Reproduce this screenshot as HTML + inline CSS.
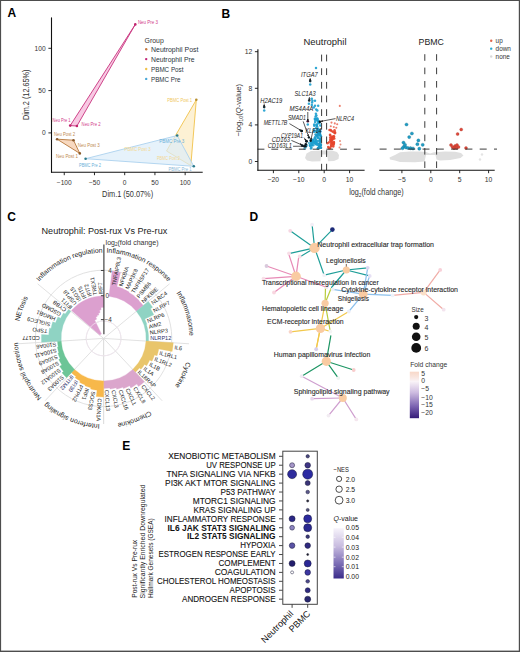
<!DOCTYPE html>
<html><head><meta charset="utf-8"><style>
html,body{margin:0;padding:0;background:#fff;overflow:hidden;width:520px;height:652px;}
.fig{position:relative;width:520px;height:652px;overflow:hidden;background:#fff;}
.fig svg{position:absolute;left:0;top:0;}
.bd{position:absolute;left:0;top:0;width:518px;height:650px;border-left:1px solid #555;border-top:1.2px solid #555;border-right:2px solid #555;border-bottom:2px solid #555;box-sizing:content-box;}
</style></head><body><div class="fig">
<svg width="520" height="652" viewBox="0 0 520 652" font-family='"Liberation Sans", sans-serif'>
<text x="7.40" y="17.20" font-size="12" fill="#000" font-weight="bold" >A</text>
<text x="221.40" y="17.70" font-size="12" fill="#000" font-weight="bold" >B</text>
<text x="7.20" y="220.90" font-size="12" fill="#000" font-weight="bold" >C</text>
<text x="249.60" y="220.50" font-size="12" fill="#000" font-weight="bold" >D</text>
<text x="122.20" y="449.80" font-size="12" fill="#000" font-weight="bold" >E</text>
<polygon points="196.30,99.80 166.50,151.00 190.80,165.60" fill="#fbe6b0" fill-opacity="0.55" stroke="#f0c24a" stroke-width="0.9" stroke-linejoin="round"/>
<polygon points="85.60,158.70 177.20,135.50 193.80,166.30" fill="#dcecf9" fill-opacity="0.7" stroke="#abd1ee" stroke-width="0.9" stroke-linejoin="round"/>
<polygon points="57.10,139.20 73.50,140.20 79.80,153.40" fill="#f6d0b0" fill-opacity="0.8" stroke="#b7773a" stroke-width="0.9" stroke-linejoin="round"/>
<polygon points="70.20,125.60 76.90,126.00 135.30,24.40" fill="#f6bcdc" fill-opacity="0.8" stroke="#c8337e" stroke-width="0.9" stroke-linejoin="round"/>
<circle cx="70.20" cy="125.60" r="1.30" fill="#c0246e" stroke="none" stroke-width="0" />
<circle cx="76.90" cy="126.00" r="1.30" fill="#c0246e" stroke="none" stroke-width="0" />
<circle cx="135.30" cy="24.40" r="1.30" fill="#c0246e" stroke="none" stroke-width="0" />
<circle cx="57.10" cy="139.20" r="1.30" fill="#8a5a2a" stroke="none" stroke-width="0" />
<circle cx="73.50" cy="140.20" r="1.30" fill="#8a5a2a" stroke="none" stroke-width="0" />
<circle cx="79.80" cy="153.40" r="1.30" fill="#8a5a2a" stroke="none" stroke-width="0" />
<circle cx="85.60" cy="158.70" r="1.30" fill="#2a7a8a" stroke="none" stroke-width="0" />
<circle cx="177.20" cy="135.50" r="1.30" fill="#2a7a8a" stroke="none" stroke-width="0" />
<circle cx="193.80" cy="166.30" r="1.30" fill="#2a7a8a" stroke="none" stroke-width="0" />
<circle cx="196.30" cy="99.80" r="1.30" fill="#b89030" stroke="none" stroke-width="0" />
<text x="137.90" y="24.20" font-size="4.6" fill="#d23c8a" textLength="20.00" lengthAdjust="spacingAndGlyphs" >Neu Pre 3</text>
<text x="52.60" y="121.60" font-size="4.6" fill="#d23c8a" textLength="18.00" lengthAdjust="spacingAndGlyphs" >Neu Pre 1</text>
<text x="81.60" y="126.20" font-size="4.6" fill="#d23c8a" textLength="19.00" lengthAdjust="spacingAndGlyphs" >Neu Pre 2</text>
<text x="54.00" y="135.80" font-size="4.6" fill="#c08a50" textLength="21.00" lengthAdjust="spacingAndGlyphs" >Neu Post 2</text>
<text x="77.80" y="147.20" font-size="4.6" fill="#c08a50" textLength="22.00" lengthAdjust="spacingAndGlyphs" >Neu Post 3</text>
<text x="56.00" y="157.70" font-size="4.6" fill="#c08a50" textLength="22.00" lengthAdjust="spacingAndGlyphs" >Neu Post 1</text>
<text x="79.00" y="166.70" font-size="4.6" fill="#6ab0d8" textLength="22.00" lengthAdjust="spacingAndGlyphs" >PBMC Pre 2</text>
<text x="159.20" y="142.90" font-size="4.6" fill="#6ab0d8" textLength="25.00" lengthAdjust="spacingAndGlyphs" >PBMC Pre 3</text>
<text x="168.50" y="170.50" font-size="4.6" fill="#8ab8d8" textLength="23.00" lengthAdjust="spacingAndGlyphs" >PBMC Pre 1</text>
<text x="167.20" y="101.80" font-size="4.6" fill="#f0c860" textLength="25.00" lengthAdjust="spacingAndGlyphs" >PBMC Post 1</text>
<text x="124.60" y="150.90" font-size="4.6" fill="#f4d890" textLength="26.00" lengthAdjust="spacingAndGlyphs" >PBMC Post 3</text>
<text x="157.00" y="160.20" font-size="4.6" fill="#f4d890" textLength="23.00" lengthAdjust="spacingAndGlyphs" >PBMC Post 2</text>
<line x1="51.50" y1="17.40" x2="51.50" y2="172.70" stroke="#111" stroke-width="1.1" />
<line x1="51.00" y1="172.20" x2="202.70" y2="172.20" stroke="#111" stroke-width="1.1" />
<line x1="48.40" y1="48.30" x2="51.50" y2="48.30" stroke="#111" stroke-width="0.9" />
<text x="45.60" y="50.60" font-size="6.6" fill="#333" text-anchor="end" >100</text>
<line x1="48.40" y1="90.60" x2="51.50" y2="90.60" stroke="#111" stroke-width="0.9" />
<text x="45.60" y="92.90" font-size="6.6" fill="#333" text-anchor="end" >50</text>
<line x1="48.40" y1="132.90" x2="51.50" y2="132.90" stroke="#111" stroke-width="0.9" />
<text x="45.60" y="135.20" font-size="6.6" fill="#333" text-anchor="end" >0</text>
<line x1="64.25" y1="172.20" x2="64.25" y2="175.20" stroke="#111" stroke-width="0.9" />
<text x="64.25" y="184.60" font-size="6.6" fill="#333" text-anchor="middle" >−100</text>
<line x1="94.47" y1="172.20" x2="94.47" y2="175.20" stroke="#111" stroke-width="0.9" />
<text x="94.47" y="184.60" font-size="6.6" fill="#333" text-anchor="middle" >−50</text>
<line x1="124.70" y1="172.20" x2="124.70" y2="175.20" stroke="#111" stroke-width="0.9" />
<text x="124.70" y="184.60" font-size="6.6" fill="#333" text-anchor="middle" >0</text>
<line x1="154.93" y1="172.20" x2="154.93" y2="175.20" stroke="#111" stroke-width="0.9" />
<text x="154.93" y="184.60" font-size="6.6" fill="#333" text-anchor="middle" >50</text>
<line x1="185.15" y1="172.20" x2="185.15" y2="175.20" stroke="#111" stroke-width="0.9" />
<text x="185.15" y="184.60" font-size="6.6" fill="#333" text-anchor="middle" >100</text>
<text x="127.60" y="197.40" font-size="8.4" fill="#333" text-anchor="middle" textLength="51.00" lengthAdjust="spacingAndGlyphs" >Dim.1 (50.07%)</text>
<text x="28.60" y="94.80" font-size="8.4" fill="#333" text-anchor="middle" textLength="50.60" lengthAdjust="spacingAndGlyphs" transform="rotate(-90.00 28.60 94.80)" >Dim.2 (12.65%)</text>
<text x="144.60" y="42.60" font-size="7.4" fill="#333" textLength="19.20" lengthAdjust="spacingAndGlyphs" >Group</text>
<circle cx="146.20" cy="49.20" r="1.20" fill="#c77a3e" stroke="none" stroke-width="0" />
<text x="151.00" y="51.80" font-size="7.3" fill="#2a3540" textLength="47.50" lengthAdjust="spacingAndGlyphs" >Neutrophil Post</text>
<circle cx="146.20" cy="59.10" r="1.20" fill="#c2267a" stroke="none" stroke-width="0" />
<text x="151.00" y="61.70" font-size="7.3" fill="#2a3540" textLength="43.50" lengthAdjust="spacingAndGlyphs" >Neutrophil Pre</text>
<circle cx="146.20" cy="69.00" r="1.20" fill="#f0c24a" stroke="none" stroke-width="0" />
<text x="151.00" y="71.60" font-size="7.3" fill="#2a3540" textLength="32.50" lengthAdjust="spacingAndGlyphs" >PBMC Post</text>
<circle cx="146.20" cy="78.90" r="1.20" fill="#4aa8d8" stroke="none" stroke-width="0" />
<text x="151.00" y="81.50" font-size="7.3" fill="#2a3540" textLength="29.50" lengthAdjust="spacingAndGlyphs" >PBMC Pre</text>
<defs><filter id="gb" x="-20%" y="-50%" width="140%" height="200%"><feGaussianBlur stdDeviation="0.6"/></filter></defs>
<g filter="url(#gb)" fill="#dfdfdf">
<polygon points="305,158 306.5,153.5 311,151 322,150.4 332,150.6 337,152 339,155 338.5,159 334,161 328,161.3 327.2,154.5 321.2,154.5 320.5,161.3 312,161.6 307,160.5"/>
<polygon points="389.5,157.5 395,155 400,152.2 410,151.5 420,151.5 426,152 430,153.5 434,152.2 445,151.5 455,151.7 461,153 463.5,155.5 460.5,158 450,160 440,160.5 436.5,159.5 435.5,155 426,155 424.5,161.5 415,162.2 400,162 395,160.5 390,159.5"/>
</g>
<circle cx="482.00" cy="154.50" r="1.20" fill="#e4e4e4" stroke="none" stroke-width="0" />
<circle cx="480.00" cy="159.50" r="1.20" fill="#e4e4e4" stroke="none" stroke-width="0" />
<circle cx="316.00" cy="68.00" r="1.25" fill="#1c9fcf" stroke="none" stroke-width="0" fill-opacity="0.9"/>
<circle cx="310.20" cy="84.50" r="1.25" fill="#1c9fcf" stroke="none" stroke-width="0" fill-opacity="0.9"/>
<circle cx="264.20" cy="110.50" r="1.25" fill="#1c9fcf" stroke="none" stroke-width="0" fill-opacity="0.9"/>
<circle cx="311.80" cy="98.80" r="1.25" fill="#1c9fcf" stroke="none" stroke-width="0" fill-opacity="0.9"/>
<circle cx="312.40" cy="100.80" r="1.25" fill="#1c9fcf" stroke="none" stroke-width="0" fill-opacity="0.9"/>
<circle cx="315.00" cy="100.80" r="1.25" fill="#1c9fcf" stroke="none" stroke-width="0" fill-opacity="0.9"/>
<circle cx="308.90" cy="103.70" r="1.25" fill="#1c9fcf" stroke="none" stroke-width="0" fill-opacity="0.9"/>
<circle cx="312.10" cy="102.50" r="1.25" fill="#1c9fcf" stroke="none" stroke-width="0" fill-opacity="0.9"/>
<circle cx="311.80" cy="105.10" r="1.25" fill="#1c9fcf" stroke="none" stroke-width="0" fill-opacity="0.9"/>
<circle cx="315.00" cy="105.70" r="1.25" fill="#1c9fcf" stroke="none" stroke-width="0" fill-opacity="0.9"/>
<circle cx="318.20" cy="105.70" r="1.25" fill="#1c9fcf" stroke="none" stroke-width="0" fill-opacity="0.9"/>
<circle cx="313.80" cy="107.40" r="1.25" fill="#1c9fcf" stroke="none" stroke-width="0" fill-opacity="0.9"/>
<circle cx="316.20" cy="109.40" r="1.25" fill="#1c9fcf" stroke="none" stroke-width="0" fill-opacity="0.9"/>
<circle cx="317.30" cy="110.60" r="1.25" fill="#1c9fcf" stroke="none" stroke-width="0" fill-opacity="0.9"/>
<circle cx="315.90" cy="113.80" r="1.25" fill="#1c9fcf" stroke="none" stroke-width="0" fill-opacity="0.9"/>
<circle cx="316.40" cy="115.50" r="1.25" fill="#1c9fcf" stroke="none" stroke-width="0" fill-opacity="0.9"/>
<circle cx="315.60" cy="116.40" r="1.25" fill="#1c9fcf" stroke="none" stroke-width="0" fill-opacity="0.9"/>
<circle cx="317.30" cy="120.40" r="1.25" fill="#1c9fcf" stroke="none" stroke-width="0" fill-opacity="0.9"/>
<circle cx="318.50" cy="123.30" r="1.25" fill="#1c9fcf" stroke="none" stroke-width="0" fill-opacity="0.9"/>
<circle cx="307.80" cy="124.50" r="1.25" fill="#1c9fcf" stroke="none" stroke-width="0" fill-opacity="0.9"/>
<circle cx="315.14" cy="121.89" r="1.25" fill="#1c9fcf" stroke="none" stroke-width="0" fill-opacity="0.9"/>
<circle cx="314.24" cy="125.81" r="1.25" fill="#1c9fcf" stroke="none" stroke-width="0" fill-opacity="0.9"/>
<circle cx="316.63" cy="124.43" r="1.25" fill="#1c9fcf" stroke="none" stroke-width="0" fill-opacity="0.9"/>
<circle cx="317.50" cy="118.70" r="1.25" fill="#1c9fcf" stroke="none" stroke-width="0" fill-opacity="0.9"/>
<circle cx="317.08" cy="118.45" r="1.25" fill="#1c9fcf" stroke="none" stroke-width="0" fill-opacity="0.9"/>
<circle cx="314.83" cy="118.84" r="1.25" fill="#1c9fcf" stroke="none" stroke-width="0" fill-opacity="0.9"/>
<circle cx="319.46" cy="123.09" r="1.25" fill="#1c9fcf" stroke="none" stroke-width="0" fill-opacity="0.9"/>
<circle cx="315.76" cy="119.49" r="1.25" fill="#1c9fcf" stroke="none" stroke-width="0" fill-opacity="0.9"/>
<circle cx="320.32" cy="125.53" r="1.25" fill="#1c9fcf" stroke="none" stroke-width="0" fill-opacity="0.9"/>
<circle cx="316.84" cy="124.93" r="1.25" fill="#1c9fcf" stroke="none" stroke-width="0" fill-opacity="0.9"/>
<circle cx="313.71" cy="129.72" r="1.25" fill="#1c9fcf" stroke="none" stroke-width="0" fill-opacity="0.9"/>
<circle cx="316.01" cy="128.30" r="1.25" fill="#1c9fcf" stroke="none" stroke-width="0" fill-opacity="0.9"/>
<circle cx="314.99" cy="119.73" r="1.25" fill="#1c9fcf" stroke="none" stroke-width="0" fill-opacity="0.9"/>
<circle cx="319.32" cy="121.70" r="1.25" fill="#1c9fcf" stroke="none" stroke-width="0" fill-opacity="0.9"/>
<circle cx="317.94" cy="120.17" r="1.25" fill="#1c9fcf" stroke="none" stroke-width="0" fill-opacity="0.9"/>
<circle cx="316.66" cy="125.67" r="1.25" fill="#1c9fcf" stroke="none" stroke-width="0" fill-opacity="0.9"/>
<circle cx="314.23" cy="124.57" r="1.25" fill="#1c9fcf" stroke="none" stroke-width="0" fill-opacity="0.9"/>
<circle cx="315.67" cy="118.72" r="1.25" fill="#1c9fcf" stroke="none" stroke-width="0" fill-opacity="0.9"/>
<circle cx="317.05" cy="126.16" r="1.25" fill="#1c9fcf" stroke="none" stroke-width="0" fill-opacity="0.9"/>
<circle cx="318.01" cy="121.77" r="1.25" fill="#1c9fcf" stroke="none" stroke-width="0" fill-opacity="0.9"/>
<circle cx="315.49" cy="134.53" r="1.25" fill="#1c9fcf" stroke="none" stroke-width="0" fill-opacity="0.9"/>
<circle cx="318.61" cy="137.94" r="1.25" fill="#1c9fcf" stroke="none" stroke-width="0" fill-opacity="0.9"/>
<circle cx="317.96" cy="132.44" r="1.25" fill="#1c9fcf" stroke="none" stroke-width="0" fill-opacity="0.9"/>
<circle cx="320.08" cy="135.25" r="1.25" fill="#1c9fcf" stroke="none" stroke-width="0" fill-opacity="0.9"/>
<circle cx="315.03" cy="137.29" r="1.25" fill="#1c9fcf" stroke="none" stroke-width="0" fill-opacity="0.9"/>
<circle cx="312.84" cy="139.80" r="1.25" fill="#1c9fcf" stroke="none" stroke-width="0" fill-opacity="0.9"/>
<circle cx="319.24" cy="134.18" r="1.25" fill="#1c9fcf" stroke="none" stroke-width="0" fill-opacity="0.9"/>
<circle cx="317.38" cy="131.52" r="1.25" fill="#1c9fcf" stroke="none" stroke-width="0" fill-opacity="0.9"/>
<circle cx="318.77" cy="130.39" r="1.25" fill="#1c9fcf" stroke="none" stroke-width="0" fill-opacity="0.9"/>
<circle cx="317.57" cy="137.65" r="1.25" fill="#1c9fcf" stroke="none" stroke-width="0" fill-opacity="0.9"/>
<circle cx="315.11" cy="138.75" r="1.25" fill="#1c9fcf" stroke="none" stroke-width="0" fill-opacity="0.9"/>
<circle cx="317.80" cy="136.95" r="1.25" fill="#1c9fcf" stroke="none" stroke-width="0" fill-opacity="0.9"/>
<circle cx="316.73" cy="135.80" r="1.25" fill="#1c9fcf" stroke="none" stroke-width="0" fill-opacity="0.9"/>
<circle cx="320.57" cy="138.40" r="1.25" fill="#1c9fcf" stroke="none" stroke-width="0" fill-opacity="0.9"/>
<circle cx="318.50" cy="134.74" r="1.25" fill="#1c9fcf" stroke="none" stroke-width="0" fill-opacity="0.9"/>
<circle cx="318.99" cy="130.61" r="1.25" fill="#1c9fcf" stroke="none" stroke-width="0" fill-opacity="0.9"/>
<circle cx="320.95" cy="136.47" r="1.25" fill="#1c9fcf" stroke="none" stroke-width="0" fill-opacity="0.9"/>
<circle cx="314.88" cy="138.22" r="1.25" fill="#1c9fcf" stroke="none" stroke-width="0" fill-opacity="0.9"/>
<circle cx="318.59" cy="133.86" r="1.25" fill="#1c9fcf" stroke="none" stroke-width="0" fill-opacity="0.9"/>
<circle cx="317.29" cy="130.23" r="1.25" fill="#1c9fcf" stroke="none" stroke-width="0" fill-opacity="0.9"/>
<circle cx="314.16" cy="131.68" r="1.25" fill="#1c9fcf" stroke="none" stroke-width="0" fill-opacity="0.9"/>
<circle cx="319.46" cy="130.59" r="1.25" fill="#1c9fcf" stroke="none" stroke-width="0" fill-opacity="0.9"/>
<circle cx="315.44" cy="131.29" r="1.25" fill="#1c9fcf" stroke="none" stroke-width="0" fill-opacity="0.9"/>
<circle cx="320.08" cy="133.91" r="1.25" fill="#1c9fcf" stroke="none" stroke-width="0" fill-opacity="0.9"/>
<circle cx="317.14" cy="130.81" r="1.25" fill="#1c9fcf" stroke="none" stroke-width="0" fill-opacity="0.9"/>
<circle cx="320.14" cy="135.49" r="1.25" fill="#1c9fcf" stroke="none" stroke-width="0" fill-opacity="0.9"/>
<circle cx="319.62" cy="147.37" r="1.25" fill="#1c9fcf" stroke="none" stroke-width="0" fill-opacity="0.9"/>
<circle cx="315.53" cy="142.51" r="1.25" fill="#1c9fcf" stroke="none" stroke-width="0" fill-opacity="0.9"/>
<circle cx="319.96" cy="143.23" r="1.25" fill="#1c9fcf" stroke="none" stroke-width="0" fill-opacity="0.9"/>
<circle cx="310.96" cy="148.62" r="1.25" fill="#1c9fcf" stroke="none" stroke-width="0" fill-opacity="0.9"/>
<circle cx="313.74" cy="141.59" r="1.25" fill="#1c9fcf" stroke="none" stroke-width="0" fill-opacity="0.9"/>
<circle cx="316.30" cy="142.10" r="1.25" fill="#1c9fcf" stroke="none" stroke-width="0" fill-opacity="0.9"/>
<circle cx="313.27" cy="145.30" r="1.25" fill="#1c9fcf" stroke="none" stroke-width="0" fill-opacity="0.9"/>
<circle cx="315.98" cy="140.04" r="1.25" fill="#1c9fcf" stroke="none" stroke-width="0" fill-opacity="0.9"/>
<circle cx="316.94" cy="143.32" r="1.25" fill="#1c9fcf" stroke="none" stroke-width="0" fill-opacity="0.9"/>
<circle cx="317.70" cy="148.58" r="1.25" fill="#1c9fcf" stroke="none" stroke-width="0" fill-opacity="0.9"/>
<circle cx="317.31" cy="144.64" r="1.25" fill="#1c9fcf" stroke="none" stroke-width="0" fill-opacity="0.9"/>
<circle cx="310.14" cy="146.09" r="1.25" fill="#1c9fcf" stroke="none" stroke-width="0" fill-opacity="0.9"/>
<circle cx="318.71" cy="148.10" r="1.25" fill="#1c9fcf" stroke="none" stroke-width="0" fill-opacity="0.9"/>
<circle cx="318.91" cy="147.87" r="1.25" fill="#1c9fcf" stroke="none" stroke-width="0" fill-opacity="0.9"/>
<circle cx="315.18" cy="143.53" r="1.25" fill="#1c9fcf" stroke="none" stroke-width="0" fill-opacity="0.9"/>
<circle cx="317.85" cy="140.93" r="1.25" fill="#1c9fcf" stroke="none" stroke-width="0" fill-opacity="0.9"/>
<circle cx="311.99" cy="140.56" r="1.25" fill="#1c9fcf" stroke="none" stroke-width="0" fill-opacity="0.9"/>
<circle cx="312.85" cy="141.88" r="1.25" fill="#1c9fcf" stroke="none" stroke-width="0" fill-opacity="0.9"/>
<circle cx="311.02" cy="143.06" r="1.25" fill="#1c9fcf" stroke="none" stroke-width="0" fill-opacity="0.9"/>
<circle cx="313.21" cy="140.00" r="1.25" fill="#1c9fcf" stroke="none" stroke-width="0" fill-opacity="0.9"/>
<circle cx="315.28" cy="140.91" r="1.25" fill="#1c9fcf" stroke="none" stroke-width="0" fill-opacity="0.9"/>
<circle cx="319.97" cy="140.23" r="1.25" fill="#1c9fcf" stroke="none" stroke-width="0" fill-opacity="0.9"/>
<circle cx="311.73" cy="145.53" r="1.25" fill="#1c9fcf" stroke="none" stroke-width="0" fill-opacity="0.9"/>
<circle cx="314.86" cy="142.27" r="1.25" fill="#1c9fcf" stroke="none" stroke-width="0" fill-opacity="0.9"/>
<circle cx="311.98" cy="143.28" r="1.25" fill="#1c9fcf" stroke="none" stroke-width="0" fill-opacity="0.9"/>
<circle cx="320.93" cy="147.64" r="1.25" fill="#1c9fcf" stroke="none" stroke-width="0" fill-opacity="0.9"/>
<circle cx="315.98" cy="144.19" r="1.25" fill="#1c9fcf" stroke="none" stroke-width="0" fill-opacity="0.9"/>
<circle cx="312.40" cy="140.77" r="1.25" fill="#1c9fcf" stroke="none" stroke-width="0" fill-opacity="0.9"/>
<circle cx="313.78" cy="143.08" r="1.25" fill="#1c9fcf" stroke="none" stroke-width="0" fill-opacity="0.9"/>
<circle cx="311.42" cy="147.46" r="1.25" fill="#1c9fcf" stroke="none" stroke-width="0" fill-opacity="0.9"/>
<circle cx="320.60" cy="140.21" r="1.25" fill="#1c9fcf" stroke="none" stroke-width="0" fill-opacity="0.9"/>
<circle cx="311.91" cy="144.75" r="1.25" fill="#1c9fcf" stroke="none" stroke-width="0" fill-opacity="0.9"/>
<circle cx="310.02" cy="144.89" r="1.25" fill="#1c9fcf" stroke="none" stroke-width="0" fill-opacity="0.9"/>
<circle cx="320.80" cy="144.75" r="1.25" fill="#1c9fcf" stroke="none" stroke-width="0" fill-opacity="0.9"/>
<circle cx="319.74" cy="146.13" r="1.25" fill="#1996c4" stroke="none" stroke-width="0" fill-opacity="0.9"/>
<circle cx="318.24" cy="133.48" r="1.25" fill="#1996c4" stroke="none" stroke-width="0" fill-opacity="0.9"/>
<circle cx="320.06" cy="131.51" r="1.25" fill="#1996c4" stroke="none" stroke-width="0" fill-opacity="0.9"/>
<circle cx="320.09" cy="139.18" r="1.25" fill="#1996c4" stroke="none" stroke-width="0" fill-opacity="0.9"/>
<circle cx="317.51" cy="134.92" r="1.25" fill="#1996c4" stroke="none" stroke-width="0" fill-opacity="0.9"/>
<circle cx="320.94" cy="145.04" r="1.25" fill="#1996c4" stroke="none" stroke-width="0" fill-opacity="0.9"/>
<circle cx="320.21" cy="145.91" r="1.25" fill="#1996c4" stroke="none" stroke-width="0" fill-opacity="0.9"/>
<circle cx="319.93" cy="145.18" r="1.25" fill="#1996c4" stroke="none" stroke-width="0" fill-opacity="0.9"/>
<circle cx="318.95" cy="132.76" r="1.25" fill="#1996c4" stroke="none" stroke-width="0" fill-opacity="0.9"/>
<circle cx="316.29" cy="135.47" r="1.25" fill="#1996c4" stroke="none" stroke-width="0" fill-opacity="0.9"/>
<circle cx="317.80" cy="128.59" r="1.25" fill="#1996c4" stroke="none" stroke-width="0" fill-opacity="0.9"/>
<circle cx="319.73" cy="133.44" r="1.25" fill="#1996c4" stroke="none" stroke-width="0" fill-opacity="0.9"/>
<circle cx="318.63" cy="148.09" r="1.25" fill="#1996c4" stroke="none" stroke-width="0" fill-opacity="0.9"/>
<circle cx="320.95" cy="147.68" r="1.25" fill="#1996c4" stroke="none" stroke-width="0" fill-opacity="0.9"/>
<circle cx="318.23" cy="148.06" r="1.25" fill="#1996c4" stroke="none" stroke-width="0" fill-opacity="0.9"/>
<circle cx="317.53" cy="132.63" r="1.25" fill="#1996c4" stroke="none" stroke-width="0" fill-opacity="0.9"/>
<circle cx="317.40" cy="132.13" r="1.25" fill="#1996c4" stroke="none" stroke-width="0" fill-opacity="0.9"/>
<circle cx="320.60" cy="141.11" r="1.25" fill="#1996c4" stroke="none" stroke-width="0" fill-opacity="0.9"/>
<circle cx="318.78" cy="145.65" r="1.25" fill="#1996c4" stroke="none" stroke-width="0" fill-opacity="0.9"/>
<circle cx="320.18" cy="141.71" r="1.25" fill="#1996c4" stroke="none" stroke-width="0" fill-opacity="0.9"/>
<circle cx="319.59" cy="129.78" r="1.25" fill="#1996c4" stroke="none" stroke-width="0" fill-opacity="0.9"/>
<circle cx="320.11" cy="147.11" r="1.25" fill="#1996c4" stroke="none" stroke-width="0" fill-opacity="0.9"/>
<circle cx="318.77" cy="143.75" r="1.25" fill="#1996c4" stroke="none" stroke-width="0" fill-opacity="0.9"/>
<circle cx="320.14" cy="131.75" r="1.25" fill="#1996c4" stroke="none" stroke-width="0" fill-opacity="0.9"/>
<circle cx="320.19" cy="134.98" r="1.25" fill="#1996c4" stroke="none" stroke-width="0" fill-opacity="0.9"/>
<circle cx="305.50" cy="147.50" r="1.20" fill="#3ab0d8" stroke="none" stroke-width="0" fill-opacity="0.8"/>
<circle cx="307.00" cy="145.50" r="1.20" fill="#3ab0d8" stroke="none" stroke-width="0" fill-opacity="0.8"/>
<circle cx="304.50" cy="148.80" r="1.20" fill="#3ab0d8" stroke="none" stroke-width="0" fill-opacity="0.8"/>
<circle cx="309.00" cy="143.00" r="1.20" fill="#3ab0d8" stroke="none" stroke-width="0" fill-opacity="0.8"/>
<circle cx="310.50" cy="140.20" r="1.20" fill="#3ab0d8" stroke="none" stroke-width="0" fill-opacity="0.8"/>
<circle cx="331.50" cy="122.60" r="1.05" fill="#e8604a" stroke="none" stroke-width="0" fill-opacity="0.8"/>
<circle cx="334.80" cy="123.40" r="1.05" fill="#e8604a" stroke="none" stroke-width="0" fill-opacity="0.8"/>
<circle cx="337.20" cy="124.20" r="1.05" fill="#e8604a" stroke="none" stroke-width="0" fill-opacity="0.8"/>
<circle cx="330.80" cy="126.30" r="1.05" fill="#e8604a" stroke="none" stroke-width="0" fill-opacity="0.8"/>
<circle cx="333.80" cy="127.00" r="1.05" fill="#e8604a" stroke="none" stroke-width="0" fill-opacity="0.8"/>
<circle cx="336.30" cy="127.80" r="1.05" fill="#e8604a" stroke="none" stroke-width="0" fill-opacity="0.8"/>
<circle cx="339.80" cy="105.90" r="1.05" fill="#e8604a" stroke="none" stroke-width="0" fill-opacity="0.8"/>
<circle cx="331.36" cy="136.77" r="1.25" fill="#e6452c" stroke="none" stroke-width="0" fill-opacity="0.9"/>
<circle cx="335.03" cy="132.21" r="1.25" fill="#e6452c" stroke="none" stroke-width="0" fill-opacity="0.9"/>
<circle cx="330.04" cy="134.80" r="1.25" fill="#e6452c" stroke="none" stroke-width="0" fill-opacity="0.9"/>
<circle cx="330.66" cy="130.02" r="1.25" fill="#e6452c" stroke="none" stroke-width="0" fill-opacity="0.9"/>
<circle cx="333.96" cy="136.24" r="1.25" fill="#e6452c" stroke="none" stroke-width="0" fill-opacity="0.9"/>
<circle cx="334.56" cy="130.17" r="1.25" fill="#e6452c" stroke="none" stroke-width="0" fill-opacity="0.9"/>
<circle cx="333.02" cy="136.84" r="1.25" fill="#e6452c" stroke="none" stroke-width="0" fill-opacity="0.9"/>
<circle cx="332.90" cy="131.80" r="1.25" fill="#e6452c" stroke="none" stroke-width="0" fill-opacity="0.9"/>
<circle cx="329.51" cy="130.05" r="1.25" fill="#e6452c" stroke="none" stroke-width="0" fill-opacity="0.9"/>
<circle cx="332.98" cy="136.77" r="1.25" fill="#e6452c" stroke="none" stroke-width="0" fill-opacity="0.9"/>
<circle cx="334.89" cy="133.21" r="1.25" fill="#e6452c" stroke="none" stroke-width="0" fill-opacity="0.9"/>
<circle cx="334.61" cy="132.47" r="1.25" fill="#e6452c" stroke="none" stroke-width="0" fill-opacity="0.9"/>
<circle cx="330.23" cy="135.61" r="1.25" fill="#e6452c" stroke="none" stroke-width="0" fill-opacity="0.9"/>
<circle cx="331.46" cy="131.01" r="1.25" fill="#e6452c" stroke="none" stroke-width="0" fill-opacity="0.9"/>
<circle cx="332.21" cy="139.89" r="1.25" fill="#e6452c" stroke="none" stroke-width="0" fill-opacity="0.9"/>
<circle cx="331.10" cy="140.11" r="1.25" fill="#e6452c" stroke="none" stroke-width="0" fill-opacity="0.9"/>
<circle cx="334.29" cy="138.57" r="1.25" fill="#e6452c" stroke="none" stroke-width="0" fill-opacity="0.9"/>
<circle cx="331.22" cy="141.25" r="1.25" fill="#e6452c" stroke="none" stroke-width="0" fill-opacity="0.9"/>
<circle cx="333.58" cy="144.00" r="1.25" fill="#e6452c" stroke="none" stroke-width="0" fill-opacity="0.9"/>
<circle cx="333.90" cy="142.05" r="1.25" fill="#e6452c" stroke="none" stroke-width="0" fill-opacity="0.9"/>
<circle cx="331.47" cy="143.02" r="1.25" fill="#e6452c" stroke="none" stroke-width="0" fill-opacity="0.9"/>
<circle cx="327.50" cy="143.28" r="1.25" fill="#e6452c" stroke="none" stroke-width="0" fill-opacity="0.9"/>
<circle cx="329.14" cy="142.28" r="1.25" fill="#e6452c" stroke="none" stroke-width="0" fill-opacity="0.9"/>
<circle cx="333.84" cy="137.05" r="1.25" fill="#e6452c" stroke="none" stroke-width="0" fill-opacity="0.9"/>
<circle cx="331.59" cy="139.07" r="1.25" fill="#e6452c" stroke="none" stroke-width="0" fill-opacity="0.9"/>
<circle cx="331.29" cy="145.70" r="1.25" fill="#e6452c" stroke="none" stroke-width="0" fill-opacity="0.9"/>
<circle cx="331.65" cy="140.91" r="1.25" fill="#e6452c" stroke="none" stroke-width="0" fill-opacity="0.9"/>
<circle cx="332.93" cy="143.67" r="1.25" fill="#e6452c" stroke="none" stroke-width="0" fill-opacity="0.9"/>
<circle cx="332.24" cy="138.27" r="1.25" fill="#e6452c" stroke="none" stroke-width="0" fill-opacity="0.9"/>
<circle cx="330.13" cy="139.98" r="1.25" fill="#e6452c" stroke="none" stroke-width="0" fill-opacity="0.9"/>
<circle cx="330.91" cy="146.27" r="1.25" fill="#e6452c" stroke="none" stroke-width="0" fill-opacity="0.9"/>
<circle cx="332.78" cy="143.74" r="1.25" fill="#e6452c" stroke="none" stroke-width="0" fill-opacity="0.9"/>
<circle cx="330.28" cy="147.95" r="1.25" fill="#e6452c" stroke="none" stroke-width="0" fill-opacity="0.9"/>
<circle cx="331.14" cy="144.35" r="1.25" fill="#e6452c" stroke="none" stroke-width="0" fill-opacity="0.9"/>
<circle cx="332.45" cy="143.15" r="1.25" fill="#e6452c" stroke="none" stroke-width="0" fill-opacity="0.9"/>
<circle cx="331.55" cy="142.43" r="1.25" fill="#e6452c" stroke="none" stroke-width="0" fill-opacity="0.9"/>
<circle cx="333.95" cy="142.74" r="1.25" fill="#e6452c" stroke="none" stroke-width="0" fill-opacity="0.9"/>
<circle cx="333.25" cy="145.39" r="1.25" fill="#e6452c" stroke="none" stroke-width="0" fill-opacity="0.9"/>
<circle cx="328.97" cy="148.31" r="1.25" fill="#e6452c" stroke="none" stroke-width="0" fill-opacity="0.9"/>
<circle cx="333.84" cy="143.71" r="1.25" fill="#e6452c" stroke="none" stroke-width="0" fill-opacity="0.9"/>
<circle cx="328.17" cy="147.08" r="1.25" fill="#e6452c" stroke="none" stroke-width="0" fill-opacity="0.9"/>
<circle cx="331.46" cy="138.46" r="1.25" fill="#e6452c" stroke="none" stroke-width="0" fill-opacity="0.9"/>
<circle cx="330.13" cy="137.87" r="1.25" fill="#e6452c" stroke="none" stroke-width="0" fill-opacity="0.9"/>
<circle cx="332.97" cy="137.88" r="1.25" fill="#e6452c" stroke="none" stroke-width="0" fill-opacity="0.9"/>
<circle cx="333.24" cy="146.41" r="1.25" fill="#e6452c" stroke="none" stroke-width="0" fill-opacity="0.9"/>
<circle cx="333.13" cy="138.85" r="1.25" fill="#e6452c" stroke="none" stroke-width="0" fill-opacity="0.9"/>
<circle cx="340.00" cy="141.00" r="1.00" fill="#e8907e" stroke="none" stroke-width="0" />
<circle cx="340.50" cy="144.50" r="1.00" fill="#e8907e" stroke="none" stroke-width="0" />
<circle cx="339.50" cy="147.50" r="1.00" fill="#e8907e" stroke="none" stroke-width="0" />
<circle cx="310.20" cy="81.10" r="1.30" fill="#14303a" stroke="none" stroke-width="0" />
<circle cx="309.20" cy="100.50" r="1.30" fill="#14303a" stroke="none" stroke-width="0" />
<circle cx="264.20" cy="107.10" r="1.30" fill="#14303a" stroke="none" stroke-width="0" />
<circle cx="307.80" cy="121.30" r="1.30" fill="#3a1030" stroke="none" stroke-width="0" />
<circle cx="319.90" cy="121.80" r="1.30" fill="#0a1a20" stroke="none" stroke-width="0" />
<circle cx="301.70" cy="131.00" r="1.30" fill="#0a1a20" stroke="none" stroke-width="0" />
<circle cx="306.50" cy="141.20" r="1.30" fill="#0a1a20" stroke="none" stroke-width="0" />
<circle cx="305.80" cy="144.30" r="1.30" fill="#0a1a20" stroke="none" stroke-width="0" />
<circle cx="305.50" cy="146.30" r="1.30" fill="#0a1a20" stroke="none" stroke-width="0" />
<circle cx="406.50" cy="124.50" r="1.60" fill="#1f9cc4" stroke="#1a6f8a" stroke-width="0.3" />
<circle cx="411.90" cy="133.50" r="1.60" fill="#1f9cc4" stroke="#1a6f8a" stroke-width="0.3" />
<circle cx="409.20" cy="137.10" r="1.60" fill="#1f9cc4" stroke="#1a6f8a" stroke-width="0.3" />
<circle cx="403.50" cy="142.60" r="1.60" fill="#1f9cc4" stroke="#1a6f8a" stroke-width="0.3" />
<circle cx="418.40" cy="140.40" r="1.60" fill="#1f9cc4" stroke="#1a6f8a" stroke-width="0.3" />
<circle cx="417.40" cy="144.20" r="1.60" fill="#1f9cc4" stroke="#1a6f8a" stroke-width="0.3" />
<circle cx="422.70" cy="144.80" r="1.60" fill="#1f9cc4" stroke="#1a6f8a" stroke-width="0.3" />
<circle cx="419.30" cy="148.70" r="1.60" fill="#1f9cc4" stroke="#1a6f8a" stroke-width="0.3" />
<circle cx="404.00" cy="146.50" r="1.60" fill="#1f9cc4" stroke="#1a6f8a" stroke-width="0.3" />
<circle cx="406.00" cy="147.50" r="1.60" fill="#1f9cc4" stroke="#1a6f8a" stroke-width="0.3" />
<circle cx="408.00" cy="148.00" r="1.60" fill="#1f9cc4" stroke="#1a6f8a" stroke-width="0.3" />
<circle cx="410.50" cy="148.20" r="1.60" fill="#1f9cc4" stroke="#1a6f8a" stroke-width="0.3" />
<circle cx="413.00" cy="148.50" r="1.60" fill="#1f9cc4" stroke="#1a6f8a" stroke-width="0.3" />
<circle cx="402.50" cy="148.20" r="1.60" fill="#1f9cc4" stroke="#1a6f8a" stroke-width="0.3" />
<circle cx="405.00" cy="144.80" r="1.60" fill="#1f9cc4" stroke="#1a6f8a" stroke-width="0.3" />
<circle cx="461.20" cy="129.50" r="1.50" fill="#e0463a" stroke="#a03020" stroke-width="0.3" />
<circle cx="457.60" cy="134.00" r="1.50" fill="#e0463a" stroke="#a03020" stroke-width="0.3" />
<circle cx="451.00" cy="145.00" r="1.50" fill="#e0463a" stroke="#a03020" stroke-width="0.3" />
<circle cx="452.50" cy="147.00" r="1.50" fill="#e0463a" stroke="#a03020" stroke-width="0.3" />
<circle cx="455.00" cy="146.00" r="1.50" fill="#e0463a" stroke="#a03020" stroke-width="0.3" />
<circle cx="457.00" cy="145.00" r="1.50" fill="#e0463a" stroke="#a03020" stroke-width="0.3" />
<circle cx="454.00" cy="148.20" r="1.50" fill="#e0463a" stroke="#a03020" stroke-width="0.3" />
<circle cx="456.50" cy="148.00" r="1.50" fill="#e0463a" stroke="#a03020" stroke-width="0.3" />
<circle cx="458.50" cy="147.00" r="1.50" fill="#e0463a" stroke="#a03020" stroke-width="0.3" />
<circle cx="466.00" cy="148.00" r="1.50" fill="#e0463a" stroke="#a03020" stroke-width="0.3" />
<line x1="257.60" y1="149.20" x2="364.60" y2="149.20" stroke="#333" stroke-width="0.95" stroke-dasharray="6.8,6.95"/>
<line x1="379.60" y1="149.10" x2="497.00" y2="149.10" stroke="#333" stroke-width="0.95" stroke-dasharray="7,7.3"/>
<line x1="321.60" y1="54.60" x2="321.60" y2="170.20" stroke="#333" stroke-width="0.95" stroke-dasharray="6.8,6.85"/>
<line x1="326.60" y1="54.60" x2="326.60" y2="170.20" stroke="#333" stroke-width="0.95" stroke-dasharray="6.8,6.85"/>
<line x1="424.80" y1="54.20" x2="424.80" y2="170.20" stroke="#333" stroke-width="0.95" stroke-dasharray="6.6,6.8"/>
<line x1="436.60" y1="54.20" x2="436.60" y2="170.20" stroke="#333" stroke-width="0.95" stroke-dasharray="6.6,6.8"/>
<line x1="257.90" y1="49.20" x2="257.90" y2="170.70" stroke="#111" stroke-width="1.1" />
<line x1="257.40" y1="170.20" x2="364.60" y2="170.20" stroke="#111" stroke-width="1.1" />
<line x1="379.30" y1="170.20" x2="494.70" y2="170.20" stroke="#111" stroke-width="1.1" />
<line x1="254.90" y1="161.50" x2="257.90" y2="161.50" stroke="#111" stroke-width="0.9" />
<text x="252.30" y="163.90" font-size="6.8" fill="#333" text-anchor="end" >0</text>
<line x1="254.90" y1="124.90" x2="257.90" y2="124.90" stroke="#111" stroke-width="0.9" />
<text x="252.30" y="127.30" font-size="6.8" fill="#333" text-anchor="end" >4</text>
<line x1="254.90" y1="88.30" x2="257.90" y2="88.30" stroke="#111" stroke-width="0.9" />
<text x="252.30" y="90.70" font-size="6.8" fill="#333" text-anchor="end" >8</text>
<line x1="254.90" y1="51.70" x2="257.90" y2="51.70" stroke="#111" stroke-width="0.9" />
<text x="252.30" y="54.10" font-size="6.8" fill="#333" text-anchor="end" >12</text>
<line x1="273.40" y1="170.20" x2="273.40" y2="173.20" stroke="#111" stroke-width="0.9" />
<text x="273.40" y="182.20" font-size="6.8" fill="#333" text-anchor="middle" >−20</text>
<line x1="298.80" y1="170.20" x2="298.80" y2="173.20" stroke="#111" stroke-width="0.9" />
<text x="298.80" y="182.20" font-size="6.8" fill="#333" text-anchor="middle" >−10</text>
<line x1="324.20" y1="170.20" x2="324.20" y2="173.20" stroke="#111" stroke-width="0.9" />
<text x="324.20" y="182.20" font-size="6.8" fill="#333" text-anchor="middle" >0</text>
<line x1="349.60" y1="170.20" x2="349.60" y2="173.20" stroke="#111" stroke-width="0.9" />
<text x="349.60" y="182.20" font-size="6.8" fill="#333" text-anchor="middle" >10</text>
<line x1="401.90" y1="170.20" x2="401.90" y2="173.20" stroke="#111" stroke-width="0.9" />
<text x="401.90" y="182.20" font-size="6.8" fill="#333" text-anchor="middle" >−5</text>
<line x1="430.80" y1="170.20" x2="430.80" y2="173.20" stroke="#111" stroke-width="0.9" />
<text x="430.80" y="182.20" font-size="6.8" fill="#333" text-anchor="middle" >0</text>
<line x1="459.70" y1="170.20" x2="459.70" y2="173.20" stroke="#111" stroke-width="0.9" />
<text x="459.70" y="182.20" font-size="6.8" fill="#333" text-anchor="middle" >5</text>
<line x1="488.60" y1="170.20" x2="488.60" y2="173.20" stroke="#111" stroke-width="0.9" />
<text x="488.60" y="182.20" font-size="6.8" fill="#333" text-anchor="middle" >10</text>
<text x="325.00" y="45.40" font-size="9" fill="#222" text-anchor="middle" textLength="43.10" lengthAdjust="spacingAndGlyphs" >Neutrophil</text>
<text x="431.20" y="45.40" font-size="9" fill="#222" text-anchor="middle" textLength="25.30" lengthAdjust="spacingAndGlyphs" >PBMC</text>
<text x="349.2" y="194.6" font-size="8.4" fill="#333" textLength="54.4" lengthAdjust="spacingAndGlyphs">log<tspan font-size="5.5" dy="2">2</tspan><tspan dy="-2">(fold change)</tspan></text>
<text transform="translate(241.4 110.2) rotate(-90)" x="0" y="0" font-size="7.6" fill="#333" text-anchor="middle">−log<tspan font-size="5.5" dy="2">10</tspan><tspan dy="-2">(</tspan><tspan font-style="italic">Q</tspan>-value)</text>
<circle cx="491.20" cy="40.80" r="1.20" fill="#e0634a" stroke="none" stroke-width="0" />
<text x="495.60" y="43.00" font-size="6.4" fill="#333" >up</text>
<circle cx="491.20" cy="48.65" r="1.20" fill="#2aa8d0" stroke="none" stroke-width="0" />
<text x="495.60" y="50.85" font-size="6.4" fill="#333" >down</text>
<circle cx="491.20" cy="56.50" r="1.20" fill="#d8d8d8" stroke="none" stroke-width="0" />
<text x="495.60" y="58.70" font-size="6.4" fill="#333" >none</text>
<text x="301.00" y="77.00" font-size="6.4" fill="#222" font-style="italic" textLength="16.70" lengthAdjust="spacingAndGlyphs" >ITGA7</text>
<text x="294.60" y="95.90" font-size="6.4" fill="#222" font-style="italic" textLength="21.00" lengthAdjust="spacingAndGlyphs" >SLC1A3</text>
<text x="289.40" y="111.30" font-size="6.4" fill="#222" font-style="italic" textLength="24.00" lengthAdjust="spacingAndGlyphs" >MS4A4A</text>
<text x="260.20" y="102.80" font-size="6.4" fill="#222" font-style="italic" textLength="22.00" lengthAdjust="spacingAndGlyphs" >H2AC19</text>
<text x="287.90" y="119.90" font-size="6.4" fill="#222" font-style="italic" textLength="18.00" lengthAdjust="spacingAndGlyphs" >SMAD1</text>
<text x="263.70" y="125.10" font-size="6.4" fill="#222" font-style="italic" textLength="23.60" lengthAdjust="spacingAndGlyphs" >METTL7B</text>
<text x="281.00" y="137.80" font-size="6.4" fill="#222" font-style="italic" textLength="22.00" lengthAdjust="spacingAndGlyphs" >CYP19A1</text>
<text x="271.70" y="142.40" font-size="6.4" fill="#222" font-style="italic" textLength="18.50" lengthAdjust="spacingAndGlyphs" >CD163</text>
<text x="267.70" y="148.20" font-size="6.4" fill="#222" font-style="italic" textLength="24.20" lengthAdjust="spacingAndGlyphs" >CD163L1</text>
<text x="305.50" y="133.00" font-size="6.4" fill="#222" font-style="italic" textLength="16.00" lengthAdjust="spacingAndGlyphs" >KLF14</text>
<text x="336.00" y="120.60" font-size="6.4" fill="#222" font-style="italic" textLength="18.00" lengthAdjust="spacingAndGlyphs" >NLRC4</text>
<defs><marker id="ah" viewBox="0 0 6 6" refX="5.5" refY="3" markerWidth="3.2" markerHeight="3.2" orient="auto"><path d="M0,0 L6,3 L0,6 Z" fill="#222"/></marker></defs>
<line x1="310.20" y1="78.00" x2="310.20" y2="81.00" stroke="#222" stroke-width="0.75" marker-end="url(#ah)"/>
<line x1="309.40" y1="97.00" x2="309.40" y2="100.60" stroke="#222" stroke-width="0.75" marker-end="url(#ah)"/>
<line x1="264.20" y1="103.50" x2="264.20" y2="107.00" stroke="#222" stroke-width="0.75" marker-end="url(#ah)"/>
<line x1="307.80" y1="112.00" x2="307.80" y2="121.00" stroke="#222" stroke-width="0.75" marker-end="url(#ah)"/>
<line x1="303.20" y1="121.40" x2="308.60" y2="136.60" stroke="#222" stroke-width="0.75" marker-end="url(#ah)"/>
<line x1="289.40" y1="123.60" x2="301.20" y2="130.60" stroke="#222" stroke-width="0.75" marker-end="url(#ah)"/>
<line x1="304.00" y1="137.60" x2="306.30" y2="140.80" stroke="#222" stroke-width="0.75" marker-end="url(#ah)"/>
<line x1="291.40" y1="140.40" x2="302.00" y2="145.00" stroke="#222" stroke-width="0.75" marker-end="url(#ah)"/>
<line x1="293.10" y1="146.30" x2="303.60" y2="146.20" stroke="#222" stroke-width="0.75" marker-end="url(#ah)"/>
<line x1="335.50" y1="118.60" x2="320.60" y2="121.40" stroke="#222" stroke-width="0.75" marker-end="url(#ah)"/>
<line x1="313.00" y1="130.80" x2="310.80" y2="140.20" stroke="#222" stroke-width="0.75" marker-end="url(#ah)"/>
<circle cx="308.90" cy="137.40" r="1.20" fill="#0a1a20" stroke="none" stroke-width="0" />
<circle cx="301.60" cy="131.00" r="1.20" fill="#0a1a20" stroke="none" stroke-width="0" />
<circle cx="306.50" cy="141.30" r="1.20" fill="#0a1a20" stroke="none" stroke-width="0" />
<circle cx="302.40" cy="145.40" r="1.20" fill="#0a1a20" stroke="none" stroke-width="0" />
<circle cx="304.20" cy="146.30" r="1.20" fill="#0a1a20" stroke="none" stroke-width="0" />
<circle cx="310.70" cy="140.80" r="1.20" fill="#0a1a20" stroke="none" stroke-width="0" />
<g>
<circle cx="103.6" cy="338.4" r="17.4" fill="none" stroke="#dedede" stroke-width="0.9"/>
<circle cx="103.6" cy="338.4" r="68.2" fill="none" stroke="#dedede" stroke-width="0.9"/>
<line x1="103.60" y1="338.40" x2="169.56" y2="283.84" stroke="#dedede" stroke-width="0.9" />
<line x1="103.60" y1="338.40" x2="189.03" y2="343.77" stroke="#dedede" stroke-width="0.9" />
<line x1="103.60" y1="338.40" x2="162.20" y2="400.80" stroke="#dedede" stroke-width="0.9" />
<line x1="103.60" y1="338.40" x2="103.60" y2="424.00" stroke="#dedede" stroke-width="0.9" />
<line x1="103.60" y1="338.40" x2="45.00" y2="400.80" stroke="#dedede" stroke-width="0.9" />
<line x1="103.60" y1="338.40" x2="18.17" y2="343.77" stroke="#dedede" stroke-width="0.9" />
<line x1="103.60" y1="338.40" x2="37.64" y2="283.84" stroke="#dedede" stroke-width="0.9" />
<line x1="103.60" y1="338.40" x2="103.60" y2="424.00" stroke="#dedede" stroke-width="0.9" />
</g>
<path d="M108.93,296.24 L112.12,270.94 A68.00,68.00 0 0 1 120.51,272.54 L116.90,286.58 A53.50,53.50 0 0 1 123.29,288.66 L123.11,289.12 A53.00,53.00 0 0 1 129.13,291.96 L128.89,292.39 A52.50,52.50 0 0 1 134.46,295.93 L134.16,296.33 A52.00,52.00 0 0 1 139.20,300.49 L138.85,300.86 A51.50,51.50 0 0 1 143.28,305.57 L136.35,311.31 A42.5,42.5 0 0 0 108.93,296.24 Z" fill="#dca0cf" stroke="#dca0cf" stroke-width="0.3"/>
<path d="M136.35,311.31 L148.29,301.43 A58.00,58.00 0 0 1 152.57,307.32 L150.46,308.66 A55.50,55.50 0 0 1 153.82,314.77 L144.77,319.03 A45.50,45.50 0 0 1 146.87,324.34 L146.40,324.49 A45.00,45.00 0 0 1 147.80,329.97 L147.80,329.97 A45.00,45.00 0 0 1 148.51,335.57 L148.51,335.57 A45.00,45.00 0 0 1 148.51,341.23 L146.02,341.07 A42.5,42.5 0 0 0 136.35,311.31 Z" fill="#8fd3c3" stroke="#8fd3c3" stroke-width="0.3"/>
<path d="M146.02,341.07 L173.26,342.78 A69.80,69.80 0 0 1 172.16,351.48 L158.80,348.93 A56.20,56.20 0 0 1 157.05,355.77 L154.48,354.93 A53.50,53.50 0 0 1 152.01,361.18 L149.75,360.11 A51.00,51.00 0 0 1 146.66,365.73 L144.55,364.39 A48.50,48.50 0 0 1 140.97,369.32 L139.43,368.04 A46.50,46.50 0 0 1 135.43,372.30 L132.69,369.38 A42.5,42.5 0 0 0 146.02,341.07 Z" fill="#e9c56a" stroke="#e9c56a" stroke-width="0.3"/>
<path d="M132.69,369.38 L144.33,381.77 A59.50,59.50 0 0 1 138.57,386.54 L136.81,384.11 A56.50,56.50 0 0 1 130.82,387.91 L129.61,385.72 A54.00,54.00 0 0 1 123.48,388.61 L122.93,387.21 A52.50,52.50 0 0 1 116.66,389.25 L116.28,387.80 A51.00,51.00 0 0 1 109.99,389.00 L109.87,388.01 A50.00,50.00 0 0 1 103.60,388.40 L103.60,380.90 A42.5,42.5 0 0 0 132.69,369.38 Z" fill="#dba6cc" stroke="#dba6cc" stroke-width="0.3"/>
<path d="M103.60,380.90 L103.60,397.00 A58.60,58.60 0 0 1 96.26,396.54 L97.05,390.29 A52.30,52.30 0 0 1 90.59,389.06 L90.92,387.80 A51.00,51.00 0 0 1 84.83,385.82 L85.19,384.89 A50.00,50.00 0 0 1 79.51,382.22 L80.23,380.90 A48.50,48.50 0 0 1 75.09,377.64 L75.97,376.42 A47.00,47.00 0 0 1 71.43,372.66 L74.51,369.38 A42.5,42.5 0 0 0 103.60,380.90 Z" fill="#f7b84a" stroke="#f7b84a" stroke-width="0.3"/>
<path d="M74.51,369.38 L66.63,377.76 A54.00,54.00 0 0 1 61.99,372.82 L63.53,371.55 A52.00,52.00 0 0 1 59.69,366.26 L61.81,364.92 A49.50,49.50 0 0 1 58.81,359.48 L60.17,358.84 A48.00,48.00 0 0 1 57.95,353.23 L58.90,352.92 A47.00,47.00 0 0 1 57.43,347.21 L58.22,347.06 A46.20,46.20 0 0 1 57.49,341.30 L61.18,341.07 A42.5,42.5 0 0 0 74.51,369.38 Z" fill="#6cc597" stroke="#6cc597" stroke-width="0.3"/>
<path d="M61.18,341.07 L41.52,342.31 A62.20,62.20 0 0 1 41.52,334.49 L48.71,334.95 A55.00,55.00 0 0 1 49.57,328.09 L51.05,328.38 A53.50,53.50 0 0 1 52.72,321.87 L55.57,322.79 A50.50,50.50 0 0 1 57.91,316.90 L60.62,318.18 A47.50,47.50 0 0 1 63.49,312.95 L65.18,314.02 A45.50,45.50 0 0 1 68.54,309.40 L70.85,311.31 A42.5,42.5 0 0 0 61.18,341.07 Z" fill="#8fd3c3" stroke="#8fd3c3" stroke-width="0.3"/>
<path d="M71.52,310.52 A42.5,42.5 0 0 1 103.60,295.90 L103.60,307.30 A31.1,31.1 0 0 0 100.89,307.42 L101.10,309.81 A28.7,28.7 0 0 0 99.61,309.98 L100.00,312.75 A25.9,25.9 0 0 0 98.44,313.02 L98.82,314.88 A24.0,24.0 0 0 0 96.98,315.33 L97.29,316.39 A22.9,22.9 0 0 0 95.77,316.88 L96.59,319.14 A20.5,20.5 0 0 0 94.61,319.97 L101.41,333.91 A5.0,5.0 0 0 0 99.83,335.12 Z" fill="#dca0cf" stroke="#dca0cf" stroke-width="0.4"/>
<circle cx="103.6" cy="338.4" r="17.4" fill="none" stroke="#f4e8f2" stroke-width="0.8" opacity="0.9"/>
<text x="113.72" y="285.36" font-size="5.6" fill="#222" dy="0.36em" transform="rotate(-79.20 113.72 285.36)">TNFAIP8L3</text>
<text x="120.63" y="286.00" font-size="5.6" fill="#222" dy="0.36em" transform="rotate(-72.00 120.63 286.00)">NFKBIA</text>
<text x="126.85" y="289.00" font-size="5.6" fill="#222" dy="0.36em" transform="rotate(-64.80 126.85 289.00)">MAP3K8</text>
<text x="132.59" y="292.72" font-size="5.6" fill="#222" dy="0.36em" transform="rotate(-57.60 132.59 292.72)">TNFRSF17</text>
<text x="137.77" y="297.10" font-size="5.6" fill="#222" dy="0.36em" transform="rotate(-50.40 137.77 297.10)">PSMB6</text>
<text x="142.31" y="302.05" font-size="5.6" fill="#222" dy="0.36em" transform="rotate(-43.20 142.31 302.05)">NFKBIE</text>
<text x="151.82" y="303.37" font-size="5.6" fill="#222" dy="0.36em" transform="rotate(-36.00 151.82 303.37)">NLRC4</text>
<text x="153.64" y="310.89" font-size="5.6" fill="#222" dy="0.36em" transform="rotate(-28.80 153.64 310.89)">NLRP7</text>
<text x="147.39" y="321.06" font-size="5.6" fill="#222" dy="0.36em" transform="rotate(-21.60 147.39 321.06)">NLRP6</text>
<text x="148.74" y="326.81" font-size="5.6" fill="#222" dy="0.36em" transform="rotate(-14.40 148.74 326.81)">AIM2</text>
<text x="149.83" y="332.56" font-size="5.6" fill="#222" dy="0.36em" transform="rotate(-7.20 149.83 332.56)">NLRP3</text>
<text x="150.20" y="338.40" font-size="5.6" fill="#2a2f6a" dy="0.36em" transform="rotate(0.00 150.20 338.40)">NLRP12</text>
<text x="174.44" y="347.35" font-size="5.6" fill="#222" dy="0.36em" transform="rotate(7.20 174.44 347.35)">IL6</text>
<text x="159.58" y="352.77" font-size="5.6" fill="#222" dy="0.36em" transform="rotate(14.40 159.58 352.77)">IL1RL1</text>
<text x="154.83" y="358.68" font-size="5.6" fill="#222" dy="0.36em" transform="rotate(21.60 154.83 358.68)">IL1RL2</text>
<text x="149.69" y="363.74" font-size="5.6" fill="#222" dy="0.36em" transform="rotate(28.80 149.69 363.74)">IL1B</text>
<text x="144.13" y="367.85" font-size="5.6" fill="#222" dy="0.36em" transform="rotate(36.00 144.13 367.85)">IL1A</text>
<text x="138.66" y="371.33" font-size="5.6" fill="#222" dy="0.36em" transform="rotate(43.20 138.66 371.33)">IL18RAP</text>
<text x="142.55" y="385.48" font-size="5.6" fill="#222" dy="0.36em" transform="rotate(50.40 142.55 385.48)">CXCL2</text>
<text x="134.73" y="387.46" font-size="5.6" fill="#222" dy="0.36em" transform="rotate(57.60 134.73 387.46)">CXCL8</text>
<text x="127.27" y="388.71" font-size="5.6" fill="#222" dy="0.36em" transform="rotate(64.80 127.27 388.71)">CXCL1</text>
<text x="120.32" y="389.85" font-size="5.6" fill="#222" dy="0.36em" transform="rotate(72.00 120.32 389.85)">CXCL16</text>
<text x="113.46" y="390.07" font-size="5.6" fill="#222" dy="0.36em" transform="rotate(79.20 113.46 390.07)">CXCL3</text>
<text x="106.84" y="389.90" font-size="5.6" fill="#222" dy="0.36em" transform="rotate(86.40 106.84 389.90)">CXCL13</text>
<text x="99.82" y="398.48" font-size="5.6" fill="#222" dy="0.36em" transform="rotate(93.60 99.82 398.48)">CDKN1A</text>
<text x="93.50" y="391.35" font-size="5.6" fill="#222" dy="0.36em" transform="rotate(100.80 93.50 391.35)">SOCS3</text>
<text x="87.35" y="388.43" font-size="5.6" fill="#222" dy="0.36em" transform="rotate(108.00 87.35 388.43)">IRF1</text>
<text x="81.63" y="385.09" font-size="5.6" fill="#222" dy="0.36em" transform="rotate(115.20 81.63 385.09)">PTPN2</text>
<text x="76.76" y="380.70" font-size="5.6" fill="#2a2f6a" dy="0.36em" transform="rotate(122.40 76.76 380.70)">IFI30</text>
<text x="72.62" y="375.85" font-size="5.6" fill="#2a2f6a" dy="0.36em" transform="rotate(129.60 72.62 375.85)">IFITM2</text>
<text x="63.07" y="376.46" font-size="5.6" fill="#222" dy="0.36em" transform="rotate(136.80 63.07 376.46)">S100A3</text>
<text x="60.24" y="369.91" font-size="5.6" fill="#222" dy="0.36em" transform="rotate(144.00 60.24 369.91)">S100A12</text>
<text x="58.82" y="363.02" font-size="5.6" fill="#222" dy="0.36em" transform="rotate(151.20 58.82 363.02)">S100A8</text>
<text x="57.48" y="356.66" font-size="5.6" fill="#222" dy="0.36em" transform="rotate(158.40 57.48 356.66)">S100A9</text>
<text x="56.53" y="350.49" font-size="5.6" fill="#222" dy="0.36em" transform="rotate(165.60 56.53 350.49)">S100A11</text>
<text x="56.18" y="344.39" font-size="5.6" fill="#222" dy="0.36em" transform="rotate(172.80 56.18 344.39)">S100A6</text>
<text x="39.80" y="338.40" font-size="5.6" fill="#222" dy="0.36em" transform="rotate(180.00 39.80 338.40)">CD177</text>
<text x="47.45" y="331.31" font-size="5.6" fill="#222" dy="0.36em" transform="rotate(187.20 47.45 331.31)">TSPO</text>
<text x="50.23" y="324.70" font-size="5.6" fill="#222" dy="0.36em" transform="rotate(194.40 50.23 324.70)">SIGLEC9</text>
<text x="55.16" y="319.22" font-size="5.6" fill="#222" dy="0.36em" transform="rotate(201.60 55.16 319.22)">HMGB1</text>
<text x="60.57" y="314.75" font-size="5.6" fill="#222" dy="0.36em" transform="rotate(208.80 60.57 314.75)">GSDMD</text>
<text x="65.50" y="310.72" font-size="5.6" fill="#222" dy="0.36em" transform="rotate(216.00 65.50 310.72)">CYBB</text>
<text x="71.45" y="308.21" font-size="5.6" fill="#222" dy="0.36em" transform="rotate(223.20 71.45 308.21)">IFIT1</text>
<text x="75.49" y="304.42" font-size="5.6" fill="#222" dy="0.36em" transform="rotate(230.40 75.49 304.42)">USP18</text>
<text x="79.97" y="301.17" font-size="5.6" fill="#222" dy="0.36em" transform="rotate(237.60 79.97 301.17)">ISG15</text>
<text x="84.82" y="298.50" font-size="5.6" fill="#222" dy="0.36em" transform="rotate(244.80 84.82 298.50)">IFIT5</text>
<text x="89.97" y="296.46" font-size="5.6" fill="#222" dy="0.36em" transform="rotate(252.00 89.97 296.46)">IFIT2</text>
<text x="95.34" y="295.08" font-size="5.6" fill="#222" dy="0.36em" transform="rotate(259.20 95.34 295.08)">TREX1</text>
<text x="100.83" y="294.39" font-size="5.6" fill="#222" dy="0.36em" transform="rotate(266.40 100.83 294.39)">IRF7</text>
<path id="cpath" d="M103.60,252.60 A85.8,85.8 0 1 1 103.60,424.20 A85.8,85.8 0 1 1 103.60,252.60" fill="none"/>
<text font-size="6.9" fill="#222" text-anchor="middle"><textPath href="#cpath" startOffset="37.89">Inflammation response</textPath></text>
<text font-size="6.9" fill="#222" text-anchor="middle"><textPath href="#cpath" startOffset="109.32">Inflammasome</textPath></text>
<text font-size="6.9" fill="#222" text-anchor="middle"><textPath href="#cpath" startOffset="171.76">Cytokine</textPath></text>
<text font-size="6.9" fill="#222" text-anchor="middle"><textPath href="#cpath" startOffset="237.80">Chemokine</textPath></text>
<text font-size="6.9" fill="#222" text-anchor="middle"><textPath href="#cpath" startOffset="302.49">Interferon signaling</textPath></text>
<text font-size="6.9" fill="#222" text-anchor="middle"><textPath href="#cpath" startOffset="368.83">Neutrophil secretion</textPath></text>
<text font-size="6.9" fill="#222" text-anchor="middle"><textPath href="#cpath" startOffset="433.52">NETosis</textPath></text>
<text font-size="6.9" fill="#222" text-anchor="middle"><textPath href="#cpath" startOffset="501.36">Inflammation regulation</textPath></text>
<line x1="103.90" y1="244.40" x2="103.90" y2="334.20" stroke="#333" stroke-width="1.1" />
<line x1="100.90" y1="270.50" x2="103.90" y2="270.50" stroke="#333" stroke-width="0.9" />
<text x="108.20" y="272.70" font-size="6.4" fill="#333" >4</text>
<line x1="100.90" y1="295.70" x2="103.90" y2="295.70" stroke="#333" stroke-width="0.9" />
<text x="105.60" y="297.90" font-size="6.4" fill="#333" >0</text>
<line x1="100.90" y1="319.60" x2="103.90" y2="319.60" stroke="#333" stroke-width="0.9" />
<text x="104.60" y="321.80" font-size="6.4" fill="#333" >−4</text>
<text x="105.6" y="244.6" font-size="7" fill="#333" textLength="52.9" lengthAdjust="spacingAndGlyphs">log<tspan font-size="4.6" dy="1.6">2</tspan><tspan dy="-1.6">(fold change)</tspan></text>
<text x="104.40" y="233.60" font-size="9.2" fill="#222" text-anchor="middle" textLength="125.70" lengthAdjust="spacingAndGlyphs" >Neutrophil: Post-rux Vs Pre-rux</text>
<g stroke-linecap="round">
<line x1="314.60" y1="247.90" x2="290.20" y2="230.80" stroke="#1e9e98" stroke-width="1.2" />
<line x1="314.60" y1="247.90" x2="312.10" y2="224.70" stroke="#1e9e98" stroke-width="1.2" />
<line x1="314.60" y1="247.90" x2="332.40" y2="229.60" stroke="#1e9e98" stroke-width="1.2" />
<line x1="314.60" y1="247.90" x2="290.00" y2="253.30" stroke="#1e9e98" stroke-width="1.2" />
<line x1="314.60" y1="247.90" x2="300.60" y2="256.40" stroke="#1e9e98" stroke-width="1.2" />
<line x1="314.60" y1="247.90" x2="324.20" y2="275.20" stroke="#1e9e98" stroke-width="1.2" />
<line x1="346.30" y1="270.00" x2="324.20" y2="275.20" stroke="#1e9e98" stroke-width="1.2" />
<line x1="346.30" y1="270.00" x2="367.70" y2="267.80" stroke="#1e9e98" stroke-width="1.2" />
<line x1="346.30" y1="270.00" x2="369.70" y2="275.90" stroke="#1e9e98" stroke-width="1.2" />
<line x1="346.30" y1="270.00" x2="331.50" y2="287.50" stroke="#1e9e98" stroke-width="1.2" />
<line x1="296.00" y1="276.30" x2="266.50" y2="266.00" stroke="#e78ab6" stroke-width="1.2" />
<line x1="296.00" y1="276.30" x2="288.50" y2="253.30" stroke="#e78ab6" stroke-width="1.2" />
<line x1="296.00" y1="276.30" x2="298.80" y2="256.70" stroke="#e78ab6" stroke-width="1.2" />
<line x1="296.00" y1="276.30" x2="263.50" y2="278.60" stroke="#e78ab6" stroke-width="1.2" />
<line x1="296.00" y1="276.30" x2="274.00" y2="292.50" stroke="#e78ab6" stroke-width="1.2" />
<line x1="296.00" y1="276.30" x2="326.50" y2="287.20" stroke="#e78ab6" stroke-width="1.2" />
<line x1="363.20" y1="294.20" x2="367.70" y2="267.80" stroke="#8cc0ec" stroke-width="1.2" />
<line x1="363.20" y1="294.20" x2="369.70" y2="275.90" stroke="#8cc0ec" stroke-width="1.2" />
<line x1="363.20" y1="294.20" x2="332.70" y2="289.30" stroke="#8cc0ec" stroke-width="1.2" />
<line x1="363.20" y1="294.20" x2="348.80" y2="311.50" stroke="#8cc0ec" stroke-width="1.2" />
<line x1="363.20" y1="294.20" x2="392.60" y2="295.40" stroke="#8cc0ec" stroke-width="1.2" />
<line x1="423.70" y1="292.40" x2="392.60" y2="295.40" stroke="#f0aca6" stroke-width="1.2" />
<line x1="423.70" y1="292.40" x2="440.20" y2="269.90" stroke="#f0aca6" stroke-width="1.2" />
<line x1="423.70" y1="292.40" x2="443.70" y2="309.70" stroke="#f0aca6" stroke-width="1.2" />
<line x1="325.10" y1="303.30" x2="325.50" y2="287.20" stroke="#b8cc3c" stroke-width="1.2" />
<line x1="325.10" y1="303.30" x2="331.00" y2="288.50" stroke="#b8cc3c" stroke-width="1.2" />
<line x1="325.10" y1="303.30" x2="330.30" y2="331.50" stroke="#b8cc3c" stroke-width="1.2" />
<line x1="320.40" y1="328.40" x2="290.50" y2="331.80" stroke="#f2c84b" stroke-width="1.2" />
<line x1="320.40" y1="328.40" x2="348.80" y2="311.50" stroke="#f2c84b" stroke-width="1.2" />
<line x1="320.40" y1="328.40" x2="316.20" y2="349.20" stroke="#f2c84b" stroke-width="1.2" />
<line x1="320.40" y1="328.40" x2="330.30" y2="331.50" stroke="#f2c84b" stroke-width="1.2" />
<line x1="325.10" y1="303.30" x2="316.20" y2="349.20" stroke="#f2c84b" stroke-width="1.2" />
<line x1="326.30" y1="361.30" x2="330.80" y2="335.80" stroke="#1c9563" stroke-width="1.2" />
<line x1="326.30" y1="361.30" x2="301.70" y2="376.20" stroke="#1c9563" stroke-width="1.2" />
<line x1="326.30" y1="361.30" x2="338.30" y2="378.10" stroke="#1c9563" stroke-width="1.2" />
<line x1="326.30" y1="361.30" x2="353.70" y2="370.00" stroke="#1c9563" stroke-width="1.2" />
<line x1="342.80" y1="398.00" x2="301.70" y2="376.20" stroke="#cf9fcf" stroke-width="1.2" />
<line x1="342.80" y1="398.00" x2="312.10" y2="398.70" stroke="#cf9fcf" stroke-width="1.2" />
<line x1="342.80" y1="398.00" x2="328.50" y2="415.60" stroke="#cf9fcf" stroke-width="1.2" />
<line x1="342.80" y1="398.00" x2="356.30" y2="419.40" stroke="#cf9fcf" stroke-width="1.2" />
<line x1="346.30" y1="264.30" x2="346.30" y2="268.50" stroke="#5a3a20" stroke-width="0.8" />
</g>
<circle cx="290.20" cy="230.80" r="1.90" fill="#f6d6e2" stroke="none" stroke-width="0" />
<circle cx="312.10" cy="224.70" r="1.90" fill="#f3eef6" stroke="none" stroke-width="0" />
<circle cx="332.40" cy="229.60" r="2.30" fill="#1c2a78" stroke="none" stroke-width="0" />
<circle cx="289.00" cy="253.30" r="1.90" fill="#f8dde6" stroke="none" stroke-width="0" />
<circle cx="299.70" cy="256.50" r="1.90" fill="#f8dde6" stroke="none" stroke-width="0" />
<circle cx="324.20" cy="275.20" r="1.90" fill="#f1f1f6" stroke="none" stroke-width="0" />
<circle cx="367.70" cy="267.80" r="1.90" fill="#dcd6f0" stroke="none" stroke-width="0" />
<circle cx="369.70" cy="275.90" r="1.90" fill="#e6e0f4" stroke="none" stroke-width="0" />
<circle cx="266.50" cy="266.00" r="1.90" fill="#d9c9dc" stroke="none" stroke-width="0" />
<circle cx="263.50" cy="278.60" r="1.90" fill="#f8e0e8" stroke="none" stroke-width="0" />
<circle cx="274.00" cy="292.50" r="1.90" fill="#f8d6e0" stroke="none" stroke-width="0" />
<circle cx="326.50" cy="287.20" r="1.90" fill="#f3e6f0" stroke="none" stroke-width="0" />
<circle cx="332.70" cy="289.30" r="1.90" fill="#eef0f8" stroke="none" stroke-width="0" />
<circle cx="348.80" cy="311.50" r="1.90" fill="#eceef8" stroke="none" stroke-width="0" />
<circle cx="392.60" cy="295.40" r="1.90" fill="#eef4fb" stroke="none" stroke-width="0" />
<circle cx="440.20" cy="269.90" r="1.90" fill="#f8d0d8" stroke="none" stroke-width="0" />
<circle cx="443.70" cy="309.70" r="1.90" fill="#f3e4ee" stroke="none" stroke-width="0" />
<circle cx="330.30" cy="331.50" r="1.90" fill="#f4f4f4" stroke="none" stroke-width="0" />
<circle cx="290.50" cy="331.80" r="1.90" fill="#f8d4c8" stroke="none" stroke-width="0" />
<circle cx="316.20" cy="349.20" r="1.90" fill="#d6cdec" stroke="none" stroke-width="0" />
<circle cx="301.70" cy="376.20" r="1.90" fill="#efeaf2" stroke="none" stroke-width="0" />
<circle cx="338.30" cy="378.10" r="1.90" fill="#eef4f2" stroke="none" stroke-width="0" />
<circle cx="353.70" cy="370.00" r="1.90" fill="#f8cccc" stroke="none" stroke-width="0" />
<circle cx="312.10" cy="398.70" r="1.90" fill="#e8d8ec" stroke="none" stroke-width="0" />
<circle cx="328.50" cy="415.60" r="1.90" fill="#f2ecf2" stroke="none" stroke-width="0" />
<circle cx="356.30" cy="419.40" r="1.90" fill="#f4e6ee" stroke="none" stroke-width="0" />
<circle cx="314.60" cy="247.90" r="5.20" fill="#f9cba2" stroke="none" stroke-width="0" />
<circle cx="346.30" cy="270.00" r="3.60" fill="#f9cba2" stroke="none" stroke-width="0" />
<circle cx="296.00" cy="276.30" r="4.80" fill="#f9cba2" stroke="none" stroke-width="0" />
<circle cx="363.20" cy="294.20" r="4.40" fill="#f9cba2" stroke="none" stroke-width="0" />
<circle cx="325.10" cy="303.30" r="3.60" fill="#f9cba2" stroke="none" stroke-width="0" />
<circle cx="320.40" cy="328.40" r="4.60" fill="#f9cba2" stroke="none" stroke-width="0" />
<circle cx="326.30" cy="361.30" r="4.60" fill="#f9cba2" stroke="none" stroke-width="0" />
<circle cx="342.80" cy="398.00" r="4.00" fill="#f9cba2" stroke="none" stroke-width="0" />
<circle cx="423.70" cy="292.40" r="3.00" fill="#fbe0c8" stroke="none" stroke-width="0" />
<text x="317.30" y="246.50" font-size="7.3" fill="#2a2a2a" textLength="116.70" lengthAdjust="spacingAndGlyphs" stroke="#2a2a2a" stroke-width="0.12">Neutrophil extracellular trap formation</text>
<text x="326.00" y="262.90" font-size="7.3" fill="#2a2a2a" textLength="39.80" lengthAdjust="spacingAndGlyphs" stroke="#2a2a2a" stroke-width="0.12">Legionellosis</text>
<text x="261.90" y="284.50" font-size="7.3" fill="#2a2a2a" textLength="116.80" lengthAdjust="spacingAndGlyphs" stroke="#2a2a2a" stroke-width="0.12">Transcriptional misregulation in cancer</text>
<text x="341.20" y="291.90" font-size="7.3" fill="#2a2a2a" textLength="116.80" lengthAdjust="spacingAndGlyphs" stroke="#2a2a2a" stroke-width="0.12">Cytokine-cytokine receptor interaction</text>
<text x="337.80" y="301.40" font-size="7.3" fill="#2a2a2a" textLength="31.10" lengthAdjust="spacingAndGlyphs" stroke="#2a2a2a" stroke-width="0.12">Shigellosis</text>
<text x="261.90" y="310.90" font-size="7.3" fill="#2a2a2a" textLength="81.40" lengthAdjust="spacingAndGlyphs" stroke="#2a2a2a" stroke-width="0.12">Hematopoietic cell lineage</text>
<text x="267.10" y="324.20" font-size="7.3" fill="#2a2a2a" textLength="76.50" lengthAdjust="spacingAndGlyphs" stroke="#2a2a2a" stroke-width="0.12">ECM-receptor interaction</text>
<text x="273.80" y="356.90" font-size="7.3" fill="#2a2a2a" textLength="96.50" lengthAdjust="spacingAndGlyphs" stroke="#2a2a2a" stroke-width="0.12">Human papillomavirus infection</text>
<text x="293.80" y="394.40" font-size="7.3" fill="#2a2a2a" textLength="95.80" lengthAdjust="spacingAndGlyphs" stroke="#2a2a2a" stroke-width="0.12">Sphingolipid signaling pathway</text>
<text x="411.50" y="312.00" font-size="7" fill="#333" textLength="12.20" lengthAdjust="spacingAndGlyphs" >Size</text>
<circle cx="416.20" cy="317.10" r="2.10" fill="#111" stroke="none" stroke-width="0" />
<text x="424.60" y="320.60" font-size="7" fill="#333" >3</text>
<circle cx="416.20" cy="326.30" r="3.50" fill="#111" stroke="none" stroke-width="0" />
<text x="424.60" y="329.80" font-size="7" fill="#333" >4</text>
<circle cx="416.20" cy="336.70" r="4.30" fill="#111" stroke="none" stroke-width="0" />
<text x="424.60" y="340.20" font-size="7" fill="#333" >5</text>
<circle cx="416.20" cy="347.90" r="4.90" fill="#111" stroke="none" stroke-width="0" />
<text x="424.60" y="351.40" font-size="7" fill="#333" >6</text>
<text x="410.20" y="366.70" font-size="7" fill="#333" textLength="37.10" lengthAdjust="spacingAndGlyphs" >Fold change</text>
<defs><linearGradient id="fcg" x1="0" y1="0" x2="0" y2="1"><stop offset="0" stop-color="#f8d8c8"/><stop offset="0.12" stop-color="#f9e6e0"/><stop offset="0.21" stop-color="#f9f3f7"/><stop offset="0.45" stop-color="#cdbbe0"/><stop offset="0.75" stop-color="#7a62b0"/><stop offset="1" stop-color="#351c78"/></linearGradient></defs>
<rect x="409.8" y="371.7" width="9.2" height="46.5" fill="url(#fcg)"/>
<text x="421.30" y="375.90" font-size="6.8" fill="#333" >5</text>
<text x="421.30" y="383.40" font-size="6.8" fill="#333" >0</text>
<text x="421.30" y="391.40" font-size="6.8" fill="#333" >−5</text>
<text x="421.30" y="399.50" font-size="6.8" fill="#333" >−10</text>
<text x="421.30" y="407.20" font-size="6.8" fill="#333" >−15</text>
<text x="421.30" y="414.70" font-size="6.8" fill="#333" >−20</text>
<text x="168.20" y="459.10" font-size="8.8" fill="#111" textLength="107.40" lengthAdjust="spacingAndGlyphs" stroke="#111" stroke-width="0.1">XENOBIOTIC METABOLISM</text>
<line x1="279.00" y1="456.30" x2="282.80" y2="456.30" stroke="#333" stroke-width="0.9" />
<text x="206.20" y="468.03" font-size="8.8" fill="#111" textLength="69.40" lengthAdjust="spacingAndGlyphs" stroke="#111" stroke-width="0.1">UV RESPONSE UP</text>
<line x1="279.00" y1="465.23" x2="282.80" y2="465.23" stroke="#333" stroke-width="0.9" />
<text x="166.50" y="476.96" font-size="8.8" fill="#111" textLength="109.10" lengthAdjust="spacingAndGlyphs" stroke="#111" stroke-width="0.1">TNFA SIGNALING VIA NFKB</text>
<line x1="279.00" y1="474.16" x2="282.80" y2="474.16" stroke="#333" stroke-width="0.9" />
<text x="165.10" y="485.89" font-size="8.8" fill="#111" textLength="110.50" lengthAdjust="spacingAndGlyphs" stroke="#111" stroke-width="0.1">PI3K AKT MTOR SIGNALING</text>
<line x1="279.00" y1="483.09" x2="282.80" y2="483.09" stroke="#333" stroke-width="0.9" />
<text x="220.60" y="494.82" font-size="8.8" fill="#111" textLength="55.00" lengthAdjust="spacingAndGlyphs" stroke="#111" stroke-width="0.1">P53 PATHWAY</text>
<line x1="279.00" y1="492.02" x2="282.80" y2="492.02" stroke="#333" stroke-width="0.9" />
<text x="192.70" y="503.75" font-size="8.8" fill="#111" textLength="82.90" lengthAdjust="spacingAndGlyphs" stroke="#111" stroke-width="0.1">MTORC1 SIGNALING</text>
<line x1="279.00" y1="500.95" x2="282.80" y2="500.95" stroke="#333" stroke-width="0.9" />
<text x="193.50" y="512.68" font-size="8.8" fill="#111" textLength="82.10" lengthAdjust="spacingAndGlyphs" stroke="#111" stroke-width="0.1">KRAS SIGNALING UP</text>
<line x1="279.00" y1="509.88" x2="282.80" y2="509.88" stroke="#333" stroke-width="0.9" />
<text x="164.60" y="521.61" font-size="8.8" fill="#111" textLength="111.00" lengthAdjust="spacingAndGlyphs" stroke="#111" stroke-width="0.1">INFLAMMATORY RESPONSE</text>
<line x1="279.00" y1="518.81" x2="282.80" y2="518.81" stroke="#333" stroke-width="0.9" />
<text x="167.50" y="530.54" font-size="8.8" fill="#111" font-weight="bold" textLength="108.10" lengthAdjust="spacingAndGlyphs" >IL6 JAK STAT3 SIGNALING</text>
<line x1="279.00" y1="527.74" x2="282.80" y2="527.74" stroke="#333" stroke-width="0.9" />
<text x="187.00" y="539.47" font-size="8.8" fill="#111" font-weight="bold" textLength="88.60" lengthAdjust="spacingAndGlyphs" >IL2 STAT5 SIGNALING</text>
<line x1="279.00" y1="536.67" x2="282.80" y2="536.67" stroke="#333" stroke-width="0.9" />
<text x="240.30" y="548.40" font-size="8.8" fill="#111" textLength="35.30" lengthAdjust="spacingAndGlyphs" stroke="#111" stroke-width="0.1">HYPOXIA</text>
<line x1="279.00" y1="545.60" x2="282.80" y2="545.60" stroke="#333" stroke-width="0.9" />
<text x="158.60" y="557.33" font-size="8.8" fill="#111" textLength="117.00" lengthAdjust="spacingAndGlyphs" stroke="#111" stroke-width="0.1">ESTROGEN RESPONSE EARLY</text>
<line x1="279.00" y1="554.53" x2="282.80" y2="554.53" stroke="#333" stroke-width="0.9" />
<text x="218.50" y="566.26" font-size="8.8" fill="#111" textLength="57.10" lengthAdjust="spacingAndGlyphs" stroke="#111" stroke-width="0.1">COMPLEMENT</text>
<line x1="279.00" y1="563.46" x2="282.80" y2="563.46" stroke="#333" stroke-width="0.9" />
<text x="214.70" y="575.19" font-size="8.8" fill="#111" textLength="60.90" lengthAdjust="spacingAndGlyphs" stroke="#111" stroke-width="0.1">COAGULATION</text>
<line x1="279.00" y1="572.39" x2="282.80" y2="572.39" stroke="#333" stroke-width="0.9" />
<text x="157.00" y="584.12" font-size="8.8" fill="#111" textLength="118.60" lengthAdjust="spacingAndGlyphs" stroke="#111" stroke-width="0.1">CHOLESTEROL HOMEOSTASIS</text>
<line x1="279.00" y1="581.32" x2="282.80" y2="581.32" stroke="#333" stroke-width="0.9" />
<text x="229.60" y="593.05" font-size="8.8" fill="#111" textLength="46.00" lengthAdjust="spacingAndGlyphs" stroke="#111" stroke-width="0.1">APOPTOSIS</text>
<line x1="279.00" y1="590.25" x2="282.80" y2="590.25" stroke="#333" stroke-width="0.9" />
<text x="182.00" y="601.98" font-size="8.8" fill="#111" textLength="93.60" lengthAdjust="spacingAndGlyphs" stroke="#111" stroke-width="0.1">ANDROGEN RESPONSE</text>
<line x1="279.00" y1="599.18" x2="282.80" y2="599.18" stroke="#333" stroke-width="0.9" />
<rect x="282.8" y="451.2" width="34.5" height="153.1" fill="none" stroke="#444" stroke-width="1"/>
<line x1="292.10" y1="604.30" x2="292.10" y2="607.80" stroke="#333" stroke-width="0.9" />
<line x1="307.70" y1="604.30" x2="307.70" y2="607.80" stroke="#333" stroke-width="0.9" />
<circle cx="307.70" cy="456.30" r="1.70" fill="#4c4a80" stroke="#1a1a3a" stroke-width="0.5" />
<circle cx="292.10" cy="465.23" r="2.50" fill="#a596c8" stroke="#1a1a3a" stroke-width="0.5" />
<circle cx="307.70" cy="465.23" r="2.80" fill="#3e3585" stroke="#1a1a3a" stroke-width="0.5" />
<circle cx="292.10" cy="474.16" r="4.50" fill="#2e2c9c" stroke="#1a1a3a" stroke-width="0.5" />
<circle cx="307.70" cy="474.16" r="5.00" fill="#2c2ba2" stroke="#1a1a3a" stroke-width="0.5" />
<circle cx="307.70" cy="483.09" r="2.50" fill="#3a3478" stroke="#1a1a3a" stroke-width="0.5" />
<circle cx="307.70" cy="492.02" r="1.80" fill="#5c5a8c" stroke="#1a1a3a" stroke-width="0.5" />
<circle cx="307.70" cy="500.95" r="1.10" fill="#333" stroke="#1a1a3a" stroke-width="0.5" />
<circle cx="307.70" cy="509.88" r="1.50" fill="#55557a" stroke="#1a1a3a" stroke-width="0.5" />
<circle cx="292.10" cy="518.81" r="3.00" fill="#2b2785" stroke="#1a1a3a" stroke-width="0.5" />
<circle cx="307.70" cy="518.81" r="4.00" fill="#2c2a9e" stroke="#1a1a3a" stroke-width="0.5" />
<circle cx="292.10" cy="527.74" r="2.40" fill="#8d84c0" stroke="#1a1a3a" stroke-width="0.5" />
<circle cx="307.70" cy="527.74" r="4.00" fill="#2a2890" stroke="#1a1a3a" stroke-width="0.5" />
<circle cx="307.70" cy="536.67" r="1.80" fill="#3c3a7a" stroke="#1a1a3a" stroke-width="0.5" />
<circle cx="292.10" cy="545.60" r="2.80" fill="#5a53a5" stroke="#1a1a3a" stroke-width="0.5" />
<circle cx="307.70" cy="545.60" r="2.80" fill="#302a80" stroke="#1a1a3a" stroke-width="0.5" />
<circle cx="307.70" cy="554.53" r="1.00" fill="#222" stroke="#1a1a3a" stroke-width="0.5" />
<circle cx="292.10" cy="563.46" r="3.00" fill="#221d6c" stroke="#1a1a3a" stroke-width="0.5" />
<circle cx="307.70" cy="563.46" r="3.50" fill="#2b2896" stroke="#1a1a3a" stroke-width="0.5" />
<circle cx="292.10" cy="572.39" r="1.50" fill="#ffffff" stroke="#1a1a3a" stroke-width="0.5" />
<circle cx="307.70" cy="572.39" r="2.80" fill="#3d37a2" stroke="#1a1a3a" stroke-width="0.5" />
<circle cx="307.70" cy="581.32" r="1.80" fill="#4d4a8e" stroke="#1a1a3a" stroke-width="0.5" />
<circle cx="307.70" cy="590.25" r="2.50" fill="#2f2a80" stroke="#1a1a3a" stroke-width="0.5" />
<circle cx="307.70" cy="599.18" r="3.00" fill="#29286f" stroke="#1a1a3a" stroke-width="0.5" />
<text x="293.90" y="614.40" font-size="9.0" fill="#111" text-anchor="end" transform="rotate(-45.00 293.90 614.40)" >Neutrophil</text>
<text x="310.80" y="614.40" font-size="9.0" fill="#111" text-anchor="end" transform="rotate(-45.00 310.80 614.40)" >PBMC</text>
<text x="136.80" y="597.80" font-size="6.6" fill="#222" textLength="58.00" lengthAdjust="spacingAndGlyphs" transform="rotate(-90.00 136.80 597.80)" >Post-rux Vs Pre-rux</text>
<text x="145.40" y="598.40" font-size="6.6" fill="#222" textLength="113.80" lengthAdjust="spacingAndGlyphs" transform="rotate(-90.00 145.40 598.40)" >Significantly Enriched Downregulated</text>
<text x="152.90" y="598.00" font-size="6.6" fill="#222" textLength="79.70" lengthAdjust="spacingAndGlyphs" transform="rotate(-90.00 152.90 598.00)" >Hallmark Genesets (GSEA)</text>
<text x="333.50" y="471.80" font-size="6.8" fill="#222" textLength="15.40" lengthAdjust="spacingAndGlyphs" >−NES</text>
<circle cx="339.10" cy="478.90" r="2.60" fill="none" stroke="#222" stroke-width="0.8" />
<text x="345.70" y="481.50" font-size="6.8" fill="#222" >2.0</text>
<circle cx="339.10" cy="489.20" r="3.20" fill="none" stroke="#222" stroke-width="0.8" />
<text x="345.70" y="491.80" font-size="6.8" fill="#222" >2.5</text>
<circle cx="339.10" cy="500.20" r="3.90" fill="none" stroke="#222" stroke-width="0.8" />
<text x="345.70" y="502.80" font-size="6.8" fill="#222" >3.0</text>
<text x="333.5" y="521.3" font-size="6.8" fill="#222" textLength="24.5" lengthAdjust="spacingAndGlyphs"><tspan font-style="italic">Q</tspan>-value</text>
<defs><linearGradient id="qg" x1="0" y1="0" x2="0" y2="1"><stop offset="0" stop-color="#f7f4fb"/><stop offset="0.35" stop-color="#c9bde0"/><stop offset="0.7" stop-color="#7d6fb6"/><stop offset="1" stop-color="#3a2c8a"/></linearGradient></defs>
<rect x="333.5" y="528.2" width="10.3" height="50.3" fill="url(#qg)"/>
<text x="345.70" y="529.70" font-size="6.8" fill="#222" >0.05</text>
<line x1="333.50" y1="537.30" x2="335.50" y2="537.30" stroke="#fff" stroke-width="0.6" />
<line x1="341.80" y1="537.30" x2="343.80" y2="537.30" stroke="#fff" stroke-width="0.6" />
<text x="345.70" y="539.80" font-size="6.8" fill="#222" >0.04</text>
<line x1="333.50" y1="547.10" x2="335.50" y2="547.10" stroke="#fff" stroke-width="0.6" />
<line x1="341.80" y1="547.10" x2="343.80" y2="547.10" stroke="#fff" stroke-width="0.6" />
<text x="345.70" y="549.60" font-size="6.8" fill="#222" >0.03</text>
<line x1="333.50" y1="557.20" x2="335.50" y2="557.20" stroke="#fff" stroke-width="0.6" />
<line x1="341.80" y1="557.20" x2="343.80" y2="557.20" stroke="#fff" stroke-width="0.6" />
<text x="345.70" y="559.70" font-size="6.8" fill="#222" >0.02</text>
<line x1="333.50" y1="566.70" x2="335.50" y2="566.70" stroke="#fff" stroke-width="0.6" />
<line x1="341.80" y1="566.70" x2="343.80" y2="566.70" stroke="#fff" stroke-width="0.6" />
<text x="345.70" y="569.20" font-size="6.8" fill="#222" >0.01</text>
<text x="345.70" y="579.00" font-size="6.8" fill="#222" >0.00</text>
<rect x="0" y="0" width="1.1" height="652" fill="#4d4d4d"/>
<rect x="0" y="0" width="520" height="1.0" fill="#4d4d4d"/>
<rect x="518.8" y="0" width="1.2" height="652" fill="#4d4d4d"/>
<rect x="0" y="650.6" width="520" height="1.4" fill="#4d4d4d"/>
</svg>
</div></body></html>
